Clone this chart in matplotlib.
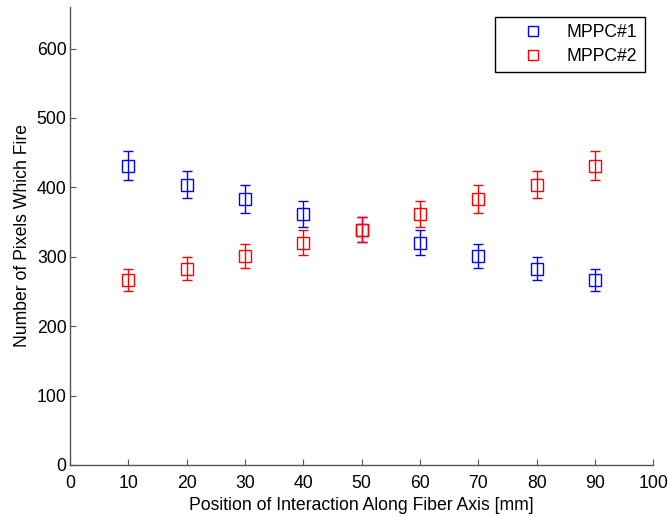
import matplotlib.pyplot as plt

plt.rcParams['font.family'] = ['Liberation Sans', 'DejaVu Sans']

# data
positions = [10, 20, 30, 40, 50, 60, 70, 80, 90]
mppc1 = [431, 404, 383, 362, 339, 320, 301, 283, 266]
mppc1_err = [21, 20, 20, 19, 18, 18, 17, 17, 16]
mppc2 = [266, 283, 301, 320, 339, 362, 383, 404, 431]
mppc2_err = [16, 17, 17, 18, 18, 19, 20, 20, 21]

fs = 12.7

fig = plt.figure(figsize=(6.68, 5.17), dpi=100)
ax = fig.add_axes([0.105, 0.1006, 0.873, 0.886])

for y, err, color, label in [(mppc1, mppc1_err, 'blue', 'MPPC#1'),
                             (mppc2, mppc2_err, 'red', 'MPPC#2')]:
    ax.errorbar(positions, y, yerr=err, fmt='s', color=color, mfc='none',
                mec=color, ms=8, mew=1.0, elinewidth=1.0, capsize=3.6,
                capthick=1.0, label=label)

ax.set_xlim(0, 100)
ax.set_ylim(0, 660)
ax.set_xticks(range(0, 101, 10))
ax.set_yticks(range(0, 601, 100))
ax.tick_params(direction='in', length=4, width=0.8, color='#555555',
               labelsize=fs)
ax.tick_params(axis='x', pad=7)
ax.tick_params(axis='y', pad=2.5)
for side in ['top', 'right']:
    ax.spines[side].set_visible(False)
for side in ['left', 'bottom']:
    ax.spines[side].set_color('#555555')
    ax.spines[side].set_linewidth(1.0)

ax.set_xlabel('Position of Interaction Along Fiber Axis [mm]', fontsize=fs,
              labelpad=3.5)
ax.set_ylabel('Number of Pixels Which Fire', fontsize=fs, labelpad=4)

handles, labels = ax.get_legend_handles_labels()
handles = [h[0] for h in handles]
leg = ax.legend(handles, labels, loc='upper right', fontsize=fs,
                fancybox=False, edgecolor='black', framealpha=1,
                borderaxespad=0.3, handlelength=3.6, handletextpad=0.1,
                markerscale=0.9, labelspacing=0.4,
                bbox_to_anchor=(0.994, 0.99))
leg.get_frame().set_linewidth(1.0)

fig.savefig('out.png', dpi=100)
